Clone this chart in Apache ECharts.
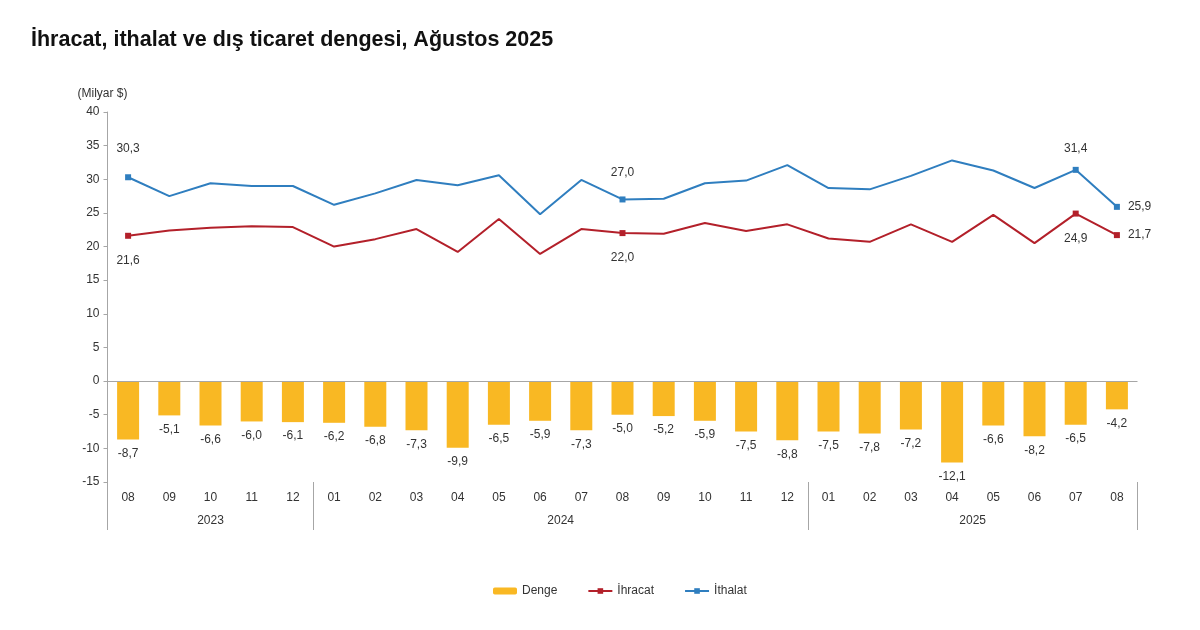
<!DOCTYPE html>
<html>
<head>
<meta charset="utf-8">
<script src="https://cdn.jsdelivr.net/npm/echarts@6/dist/echarts.min.js"></script>
<style>
  html, body { margin: 0; padding: 0; background: #fff; }
  #chart { width: 1200px; height: 630px; }
</style>
</head>
<body>
<div id="chart"></div>
<script>
// aylar (2023-08 .. 2025-08)
const months = ['08','09','10','11','12','01','02','03','04','05','06','07','08','09','10','11','12','01','02','03','04','05','06','07','08'];
// yıl etiketleri: yarım-ay adımlı ikinci eksen (51 nokta)
const yearLabels = { 5: '2023', 22: '2024', 42: '2025' };
const yearSeparators = [0, 10, 34, 50];

// dış ticaret dengesi
const balance = [-8.7, -5.1, -6.6, -6.0, -6.1, -6.2, -6.8, -7.3, -9.9, -6.5, -5.9, -7.3, -5.0, -5.2, -5.9, -7.5, -8.8, -7.5, -7.8, -7.2, -12.1, -6.6, -8.2, -6.5, -4.2];
// ihracat
const exports = [21.6, 22.4, 22.8, 23.0, 22.9, 20.0, 21.1, 22.6, 19.2, 24.1, 18.9, 22.6, 22.0, 21.9, 23.5, 22.3, 23.3, 21.2, 20.7, 23.3, 20.7, 24.7, 20.5, 24.9, 21.7];
// ithalat
const imports = [30.3, 27.5, 29.4, 29.0, 29.0, 26.2, 27.9, 29.9, 29.1, 30.6, 24.8, 29.9, 27.0, 27.1, 29.4, 29.8, 32.1, 28.7, 28.5, 30.5, 32.8, 31.3, 28.7, 31.4, 25.9];

// etiketli noktalar
const exportMarks = { 0: ['bottom', 16], 12: ['bottom', 16], 23: ['bottom', 16], 24: ['right', 8] };
const importMarks = { 0: ['top', 20], 12: ['top', 18], 23: ['top', 12], 24: ['right', 8] };

const fmt = v => v.toFixed(1).replace('.', ',');
const txt = '#333';
const axisCol = '#A6A6A6';

function lineData(vals, marks) {
  return vals.map((v, i) => {
    if (marks[i]) {
      return {
        value: v,
        symbol: 'rect',
        label: { show: true, position: marks[i][0], distance: marks[i][1] }
      };
    }
    return { value: v, symbol: 'none' };
  });
}

const yearData = [];
for (let k = 0; k <= 50; k++) yearData.push(yearLabels[k] || '');

const chart = echarts.init(document.getElementById('chart'));
chart.setOption({
  animation: false,
  textStyle: { fontFamily: 'Liberation Sans, Arial, sans-serif' },
  title: {
    text: 'İhracat, ithalat ve dış ticaret dengesi, Ağustos 2025',
    left: 26,
    top: 24,
    textStyle: { fontSize: 21.5, fontWeight: 'bold', color: '#111', fontFamily: 'Liberation Sans, Arial, sans-serif' }
  },
  legend: {
    left: 488,
    top: 580,
    itemWidth: 24,
    itemHeight: 7,
    itemGap: 30,
    textStyle: { color: txt, fontSize: 12 },
    data: ['Denge', 'İhracat', 'İthalat']
  },
  grid: { left: 107.5, right: 62.5, top: 112, bottom: 148 },
  xAxis: [
    {
      type: 'category',
      data: months,
      axisLine: { show: false },
      axisTick: { show: false },
      axisLabel: { color: txt, fontSize: 12, margin: 10 }
    },
    {
      type: 'category',
      data: yearData,
      boundaryGap: false,
      position: 'bottom',
      axisLine: { show: false },
      axisTick: {
        show: true,
        length: 48,
        interval: (i) => yearSeparators.includes(i),
        lineStyle: { color: axisCol }
      },
      axisLabel: {
        color: txt, fontSize: 12, margin: 33,
        interval: (i) => !!yearLabels[i]
      }
    }
  ],
  yAxis: {
    type: 'value',
    min: -15,
    max: 40,
    interval: 5,
    name: '(Milyar $)',
    nameLocation: 'end',
    nameGap: 12,
    nameTextStyle: { color: txt, fontSize: 12, padding: [0, 0, 0, -10] },
    axisLine: { show: true, lineStyle: { color: axisCol } },
    axisTick: { show: true, length: 4, lineStyle: { color: axisCol } },
    axisLabel: { color: txt, fontSize: 12, margin: 8 },
    splitLine: { show: false }
  },
  series: [
    {
      name: 'Denge',
      type: 'bar',
      data: balance,
      barWidth: 22,
      itemStyle: { color: '#F9B823' },
      label: {
        show: true,
        position: 'bottom',
        distance: 8,
        color: txt,
        fontSize: 12,
        formatter: p => fmt(p.value)
      },
      markLine: {
        silent: true,
        symbol: 'none',
        label: { show: false },
        lineStyle: { color: axisCol, type: 'solid', width: 1 },
        data: [{ yAxis: 0 }]
      }
    },
    {
      name: 'İhracat',
      type: 'line',
      data: lineData(exports, exportMarks),
      symbol: 'rect',
      symbolSize: 6,
      lineStyle: { color: '#B3202A', width: 2 },
      itemStyle: { color: '#B3202A' },
      label: { color: txt, fontSize: 12, formatter: p => fmt(p.value) }
    },
    {
      name: 'İthalat',
      type: 'line',
      data: lineData(imports, importMarks),
      symbol: 'rect',
      symbolSize: 6,
      lineStyle: { color: '#2F7EBF', width: 2 },
      itemStyle: { color: '#2F7EBF' },
      label: { color: txt, fontSize: 12, formatter: p => fmt(p.value) }
    }
  ]
});
</script>
</body>
</html>
